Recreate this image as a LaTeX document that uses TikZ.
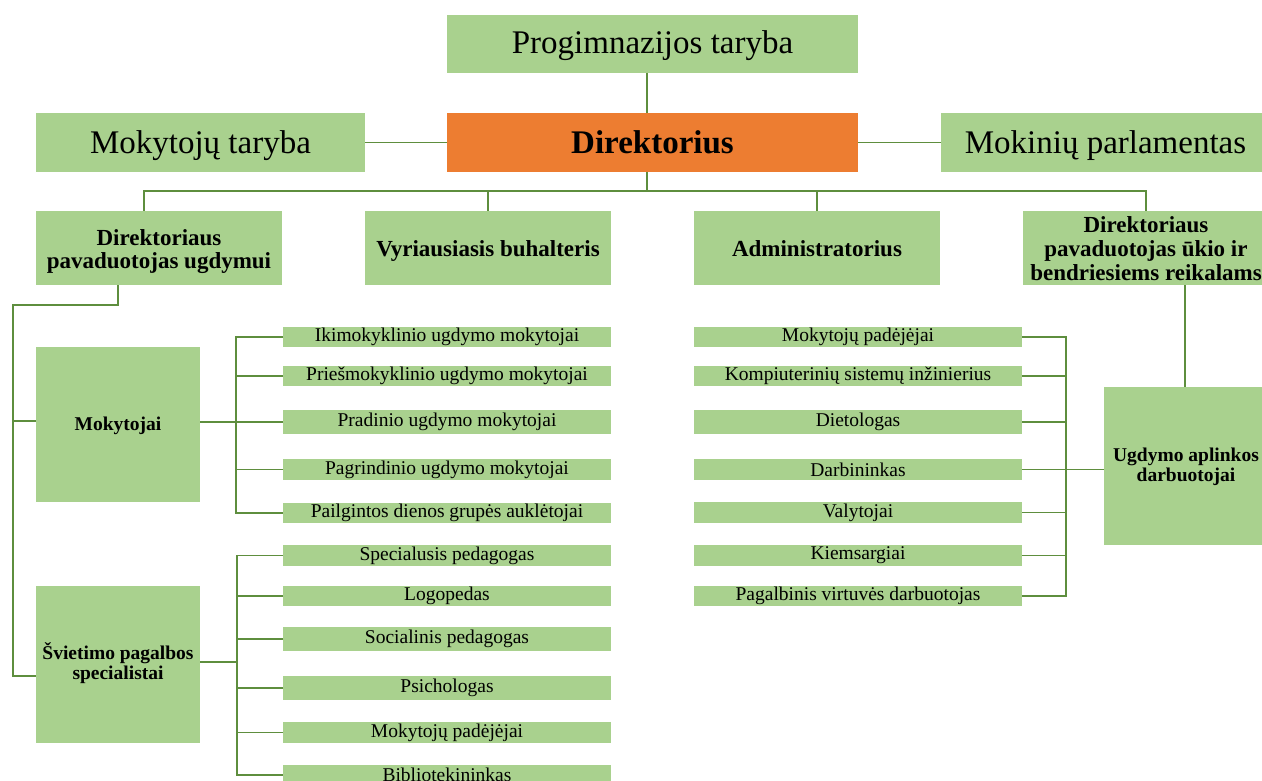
\documentclass[tikz,border=0pt]{standalone}
\usepackage{fontspec}
\setmainfont{Liberation Serif}
\usetikzlibrary{calc}
\definecolor{lgreen}{HTML}{A9D18E}
\definecolor{orng}{HTML}{ED7D31}
\definecolor{lnc}{HTML}{5E8E3E}
\newcommand\fbig{\fontsize{33}{36}\selectfont}
\newcommand\fmid{\fontsize{23}{23.5}\selectfont\bfseries}
\newcommand\fsb{\fontsize{19.5}{20}\selectfont\bfseries}
\newcommand\fsm{\fontsize{19.5}{21}\selectfont}
% text whose first baseline lies #1 below (negative: above) the box centre
\newcommand\boxtxt[2]{\raisebox{#1}[0pt][0pt]{\begin{tabular}[t]{@{}c@{}}#2\end{tabular}}}
\begin{document}
\begin{tikzpicture}[x=1pt,y=-1pt,
  gbox/.style={fill=lgreen, inner sep=0pt, outer sep=0pt, anchor=north west, align=center},
  item/.style={gbox, minimum width=328pt, font=\fsm},
  conn/.style={draw=lnc, line width=1.8pt}]
\useasboundingbox (0,0) rectangle (1262,781);
\clip (0,0) rectangle (1262,781);
% top level
\node[gbox, minimum width=411pt, minimum height=58pt, font=\fbig] (prog) at (447,15) {\boxtxt{-10pt}{Progimnazijos taryba}};
\node[gbox, minimum width=329pt, minimum height=59pt, font=\fbig] (mokt) at (36,113) {\boxtxt{-11pt}{Mokytojų taryba}};
\node[gbox, fill=orng, minimum width=411pt, minimum height=59pt, font=\fbig\bfseries] (dir) at (447,113) {\boxtxt{-11pt}{Direktorius}};
\node[gbox, minimum width=329pt, minimum height=59pt, font=\fbig] (mokp) at (941,113) {\boxtxt{-11pt}{Mokinių parlamentas}};
% level 2
\node[gbox, minimum width=246pt, minimum height=74pt, font=\fmid] (pu) at (36,211) {\boxtxt{3pt}{Direktoriaus\\pavaduotojas ugdymui}};
\node[gbox, minimum width=246pt, minimum height=74pt, font=\fmid] (vb) at (365,211) {\boxtxt{-8pt}{Vyriausiasis buhalteris}};
\node[gbox, minimum width=246pt, minimum height=74pt, font=\fmid] (adm) at (694,211) {\boxtxt{-8pt}{Administratorius}};
\node[gbox, minimum width=246pt, minimum height=74pt, font=\fontsize{23}{24}\selectfont\bfseries] (pk) at (1023,211) {\boxtxt{16pt}{Direktoriaus\\pavaduotojas ūkio ir\\bendriesiems reikalams}};
% group boxes
\node[gbox, minimum width=164pt, minimum height=155pt, font=\fsb] (mok) at (36,347) {\boxtxt{-5.5pt}{Mokytojai}};
\node[gbox, minimum width=164pt, minimum height=157pt, font=\fsb] (sv) at (36,586) {\boxtxt{5.5pt}{Švietimo pagalbos\\specialistai}};
\node[gbox, minimum width=164pt, minimum height=158pt, font=\fsb] (ugd) at (1104,387) {\boxtxt{5pt}{Ugdymo aplinkos\\darbuotojai}};
% teacher items
\node[item, minimum height=20pt] (m1) at (283,327) {Ikimokyklinio ugdymo mokytojai};
\node[item, minimum height=20pt] (m2) at (283,366) {Priešmokyklinio ugdymo mokytojai};
\node[item, minimum height=24pt] (m3) at (283,410) {Pradinio ugdymo mokytojai};
\node[item, minimum height=21pt] (m4) at (283,459) {Pagrindinio ugdymo mokytojai};
\node[item, minimum height=20pt] (m5) at (283,503) {Pailgintos dienos grupės auklėtojai};
% support items
\node[item, minimum height=21pt] (s1) at (283,545) {Specialusis pedagogas};
\node[item, minimum height=20pt] (s2) at (283,586) {Logopedas};
\node[item, minimum height=24pt] (s3) at (283,627) {Socialinis pedagogas};
\node[item, minimum height=24pt] (s4) at (283,676) {Psichologas};
\node[item, minimum height=21pt] (s5) at (283,722) {Mokytojų padėjėjai};
\node[item, minimum height=20pt] (s6) at (283,765) {Bibliotekininkas};
% right items
\node[item, minimum height=20pt] (r1) at (694,327) {Mokytojų padėjėjai};
\node[item, minimum height=20pt] (r2) at (694,366) {Kompiuterinių sistemų inžinierius};
\node[item, minimum height=24pt] (r3) at (694,410) {Dietologas};
\node[item, minimum height=21pt] (r4) at (694,459) {Darbininkas};
\node[item, minimum height=21pt] (r5) at (694,502) {Valytojai};
\node[item, minimum height=21pt] (r6) at (694,545) {Kiemsargiai};
\node[item, minimum height=20pt] (r7) at (694,586) {Pagalbinis virtuvės darbuotojas};
% bus coordinates
\coordinate (b0) at (647,191);
\coordinate (lx) at (13,305);
\coordinate (mbx) at (236,0);
\coordinate (sbx) at (237,0);
\coordinate (rbx) at (1066,0);
% top connectors
\draw[conn] (prog.south -| b0) -- (dir.north -| b0);
\draw[conn] (mokt.east) -- (dir.west);
\draw[conn] (dir.east) -- (mokp.west);
\draw[conn] (dir.south -| b0) -- (b0);
\draw[conn] ($(pu.north west)+(108,0)$) |- (b0) -| (pk.north);
\draw[conn] (b0 -| vb.north) -- (vb.north);
\draw[conn] (b0 -| adm.north) -- (adm.north);
% left branch
\draw[conn] ($(pu.south west)+(82,0)$) |- (lx) -- (13,676) -- (sv.west |- 0,676);
\draw[conn] (13,421) -- (mok.west |- 0,421);
% teachers
\draw[conn] (mok.east |- m3.west) -- (m3.west);
\draw[conn] (m1.west) -- (m1.west -| mbx) -- (m5.west -| mbx) -- (m5.west);
\foreach \n in {m2,m4} \draw[conn] (\n.west) -- (\n.west -| mbx);
% support
\draw[conn] (sv.east |- 0,662) -- (sbx |- 0,662);
\draw[conn] (s1.west) -- (s1.west -| sbx) -- (s6.west -| sbx) -- (s6.west);
\foreach \n in {s2,s3,s4,s5} \draw[conn] (\n.west) -- (\n.west -| sbx);
% right
\draw[conn] (r1.east) -- (r1.east -| rbx) -- (r7.east -| rbx) -- (r7.east);
\foreach \n in {r2,r3,r4,r5,r6} \draw[conn] (\n.east) -- (\n.east -| rbx);
\draw[conn] (r4.east -| rbx) -- (r4.east -| ugd.west);
\draw[conn] ($(pk.south west)+(162,0)$) -- ($(ugd.north west)+(81,0)$);
\end{tikzpicture}
\end{document}
